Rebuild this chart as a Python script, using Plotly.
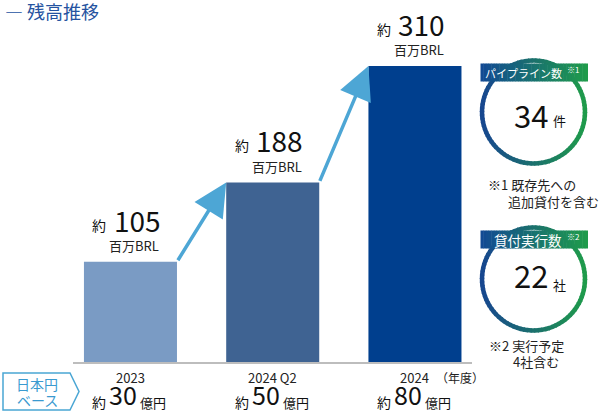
import math
import plotly.graph_objects as go

# ---- data ----
categories = ["2023", "2024 Q2", "2024"]
values = [105, 188, 310]          # 百万BRL
jpy_oku = [30, 50, 80]            # 億円
bar_colors = ["#7a9bc4", "#3f6392", "#003f8e"]
unit_label = "百万BRL"
pipeline_count = 34
loan_count = 22

W, H = 601, 413
FONT = "Noto Sans CJK JP"
xs = list(range(len(categories)))
bw = 0.654


def P(px, py):
    return px / W, 1 - py / H


fig = go.Figure(
    go.Bar(
        x=xs, y=values, width=bw,
        marker=dict(color=bar_colors, line=dict(width=0)),
        hoverinfo="skip",
    )
)

fig.update_layout(
    width=W, height=H,
    margin=dict(l=0, r=0, t=0, b=0),
    paper_bgcolor="white", plot_bgcolor="white",
    showlegend=False,
    font=dict(family=FONT, color="#1a1a1a"),
    xaxis=dict(domain=[73 / W, 472 / W], range=[-0.404, 2.401],
               showline=True, linecolor="#bdbdbd", linewidth=2,
               showticklabels=False, showgrid=False, zeroline=False, ticks=""),
    yaxis=dict(domain=[51 / H, 1], range=[0, 379], visible=False),
)


def note(px, py, text, size, color="#222", xanchor="center", **kw):
    fx, fy = P(px, py)
    fig.add_annotation(x=fx, y=fy, xref="paper", yref="paper", showarrow=False,
                       xanchor=xanchor, yanchor="middle", text=text,
                       font=dict(size=size, color=color, family=FONT), **kw)


# arrows between bars
for i in range(len(values) - 1):
    fig.add_annotation(
        x=xs[i + 1] - bw / 2, y=values[i + 1],
        ax=xs[i] + bw / 2, ay=values[i],
        xref="x", yref="y", axref="x", ayref="y",
        showarrow=True, arrowhead=2, arrowsize=1.9, arrowwidth=3.5,
        arrowcolor="#4da6d5", text="", standoff=0,
    )

# value labels
for xi, v in zip(xs, values):
    fig.add_annotation(
        x=xi, y=v, xref="x", yref="y", showarrow=False,
        yanchor="middle", yshift=16, xshift=4,
        text=unit_label, font=dict(size=13, color="#222"),
    )
    fig.add_annotation(
        x=xi, y=v, xref="x", yref="y", showarrow=False,
        yanchor="middle", yshift=42, xshift=7,
        text=str(v), font=dict(size=28, color="#111"),
    )
    fig.add_annotation(
        x=xi, y=v, xref="x", yref="y", showarrow=False,
        yanchor="middle", xanchor="right", yshift=37, xshift=-22,
        text="約", font=dict(size=14, color="#111"),
    )

# category labels and yen amounts
y_cat = P(0, 377)[1]
y_yen_small = P(0, 402)[1]
for xi, c, j in zip(xs, categories, jpy_oku):
    fig.add_annotation(x=xi, y=y_cat, xref="x", yref="paper", showarrow=False,
                       yanchor="middle", text=c, font=dict(size=13, color="#222"))
    fig.add_annotation(x=xi, y=0, xref="x", yref="paper", showarrow=False,
                       yanchor="bottom", xshift=-7, text=str(j), borderpad=0,
                       font=dict(size=25, color="#111"))
    fig.add_annotation(x=xi, y=y_yen_small, xref="x", yref="paper", showarrow=False,
                       yanchor="middle", xanchor="right", xshift=-22, text="約",
                       font=dict(size=14, color="#111"))
    fig.add_annotation(x=xi, y=y_yen_small, xref="x", yref="paper", showarrow=False,
                       yanchor="middle", xanchor="left", xshift=8, text="億円",
                       font=dict(size=13, color="#111"))

note(460, 377, "（年度）", 12)

# title
note(3, 11, "― 残高推移", 18, color="#2553a0", xanchor="left")

# 日本円ベース box
pts = [(3, 373), (70, 373), (79, 391.5), (70, 410), (3, 410)]
path = "M " + " L ".join(f"{P(a, b)[0]} {P(a, b)[1]}" for a, b in pts) + " Z"
fig.add_shape(type="path", path=path, xref="paper", yref="paper",
              line=dict(color="#4aa6d4", width=1.5), fillcolor="white")
note(37, 384, "日本円", 14, color="#3a9ad0")
note(37, 400, "ベース", 14, color="#3a9ad0")


def lerp(c0, c1, t):
    a = [int(c0[i:i + 2], 16) for i in (1, 3, 5)]
    b = [int(c1[i:i + 2], 16) for i in (1, 3, 5)]
    return "#" + "".join(f"{round(a[k] + (b[k] - a[k]) * t):02x}" for k in range(3))


BLUE, GREEN = "#17478f", "#1f9b4b"


def badge(cx, cy, r, title, tsize, tx, sup, number, unit, num_dy, unit_dy, note_lines):
    x0, y1 = P(cx - r, cy + r)
    x1, y0 = P(cx + r, cy - r)
    fig.add_shape(type="circle", xref="paper", yref="paper",
                  x0=x0, y0=y1, x1=x1, y1=y0, fillcolor="white", line=dict(width=0))
    n = 90
    for i in range(n):
        a0 = 2 * math.pi * i / n
        a1 = 2 * math.pi * (i + 1.3) / n
        pa = (cx + r * math.cos(a0), cy + r * math.sin(a0))
        pb = (cx + r * math.cos(a1), cy + r * math.sin(a1))
        t = ((pa[0] + pb[0]) / 2 - (cx - r)) / (2 * r)
        qa, qb = P(*pa), P(*pb)
        fig.add_shape(type="path", xref="paper", yref="paper",
                      path=f"M {qa[0]} {qa[1]} L {qb[0]} {qb[1]}",
                      line=dict(color=lerp(BLUE, GREEN, t), width=4.5))
    # banner
    bx0, bx1 = cx - 53, cx + 54
    by0, by1 = cy - r + 3, cy - r + 21
    m = 40
    for i in range(m):
        sx0 = bx0 + (bx1 - bx0) * i / m
        sx1 = bx0 + (bx1 - bx0) * (i + 1) / m + 0.5
        a, b = P(sx0, by0)
        c, d = P(sx1, by1)
        fig.add_shape(type="rect", xref="paper", yref="paper",
                      x0=a, x1=c, y0=d, y1=b, line=dict(width=0),
                      fillcolor=lerp("#124a93", GREEN, i / (m - 1)))
    bym = (by0 + by1) / 2
    note(tx, bym + 0.5, title, tsize, color="white", xanchor="right")
    note(tx + 1, bym - 3, sup, 8, color="white", xanchor="left")
    note(cx + 16, cy + num_dy, str(number), 31, color="#111", xanchor="right")
    note(cx + 17, cy + unit_dy, unit, 13, color="#111", xanchor="left")
    for (line, lx, ly) in note_lines:
        note(lx, ly, line, 13, xanchor="left")


badge(533.5, 112, 51.5, "パイプライン数", 11, 564, "※1", pipeline_count, "件", 2, 9,
      [("※1 既存先への", 486, 184), ("追加貸付を含む", 506, 201)])
badge(533.5, 279, 51.5, "貸付実行数", 13.5, 564, "※2", loan_count, "社", -5, 5,
      [("※2 実行予定", 487, 345), ("4社含む", 511, 361)])

fig.write_html("out.html", config={"displayModeBar": False},
               post_script="document.body.style.margin='0';document.body.style.overflow='hidden';")
